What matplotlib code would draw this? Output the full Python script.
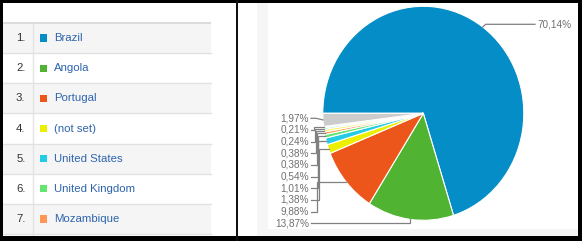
import numpy as np
import matplotlib
matplotlib.use("Agg")
import matplotlib.pyplot as plt
from matplotlib.patches import Rectangle

# ---------------- data ----------------
countries = ["Brazil", "Angola", "Portugal", "(not set)", "United States",
             "United Kingdom", "Mozambique"]
slice_values = [70.14, 13.87, 9.88, 1.38, 1.01, 0.54, 0.38, 0.38, 0.24, 0.21, 1.97]
slice_labels = ["70,14%", "13,87%", "9,88%", "1,38%", "1,01%", "0,54%",
                "0,38%", "0,38%", "0,24%", "0,21%", "1,97%"]
slice_colors = ["#058dc7", "#50b432", "#ed561b", "#edef00", "#24cbe5", "#64e572",
                "#ff9655", "#fff263", "#6af9c4", "#b2deff", "#cccccc"]

W, H = 582, 241
plt.rcParams['font.family'] = ['Liberation Sans', 'DejaVu Sans']
fig = plt.figure(figsize=(W / 100, H / 100), dpi=100)
fig.patch.set_facecolor("white")

# overlay axes in pixel coordinates
ov = fig.add_axes([0, 0, 1, 1])
ov.set_xlim(0, W)
ov.set_ylim(H, 0)
ov.axis("off")

# ---------------- left table ----------------
tab_x0, tab_x1 = 3, 211
row_top0, row_h = 23.0, 30.15
for i, name in enumerate(countries):
    top = row_top0 + i * row_h
    bg = "#f5f5f5" if i % 2 == 0 else "white"
    ov.add_patch(Rectangle((tab_x0, top), tab_x1 - tab_x0, row_h, facecolor=bg,
                           edgecolor="none", zorder=1))
    ov.plot([tab_x0, tab_x1], [top + row_h, top + row_h], color="#e2e2e2", lw=1.0, zorder=2)
    cy = top + row_h / 2
    ov.text(25.5, cy, f"{i + 1}.", ha="right", va="center", fontsize=8.2,
            color="#333333", zorder=3)
    ov.add_patch(Rectangle((39.5, cy - 3.6), 7.2, 7.2, facecolor=slice_colors[i],
                           edgecolor="none", zorder=3))
    ov.text(54, cy, name, ha="left", va="center", fontsize=8.2,
            color="#2d64ad", zorder=3)
# top border of table
ov.add_patch(Rectangle((tab_x0, 21.5), tab_x1 - tab_x0, 2.2, facecolor="#dcdcdc",
                       edgecolor="none", zorder=2))
# number column divider
ov.plot([32.5, 32.5], [23, 236], color="#e4e4e4", lw=1.0, zorder=2)

# ---------------- right panel frame strips ----------------
ov.add_patch(Rectangle((257, 3), 11, 233, facecolor="#f6f6f6", edgecolor="none", zorder=1))
ov.add_patch(Rectangle((257, 229), 321, 7, facecolor="#f6f6f6", edgecolor="none", zorder=1))

# ---------------- pie ----------------
cx, cy0, rx, ry = 423.3, 113.3, 100.5, 107.0
pa = fig.add_axes([(cx - rx) / W, 1 - (cy0 + ry) / H, 2 * rx / W, 2 * ry / H])
wedges, _ = pa.pie(slice_values, colors=slice_colors, startangle=180, counterclock=False,
                   radius=1.0, wedgeprops=dict(edgecolor="white", linewidth=0.8))
pa.set_aspect("auto")
pa.set_xlim(-1, 1)
pa.set_ylim(-1, 1)
pa.axis("off")
pa.set_zorder(2)
ov.set_zorder(3)
ov.patch.set_alpha(0)

to_px = pa.transData + ov.transData.inverted()

def edge_point(k):
    w = wedges[k]
    mid = np.deg2rad((w.theta1 + w.theta2) / 2)
    return to_px.transform((np.cos(mid), np.sin(mid)))

lab_color = "#707070"
line_color = "#808080"

# big slice label (right side)
ex, ey = edge_point(0)
ov.plot([ex, ex + 3, 535], [ey, 24.3, 24.3], color=line_color, lw=0.9, zorder=4)
ov.text(538, 24.3, slice_labels[0], ha="left", va="center", fontsize=7.2, color=lab_color, zorder=4)

# stacked left labels, top to bottom: other, 10th, 9th, ... , Angola
order = [10, 9, 8, 7, 6, 5, 4, 3, 2, 1]
elbow_x = [318, 314, 315, 316, 317, 318, 318, 319, 316.5, None]
y_first, y_step = 118.3, 11.65
lab_right = 309
for j, k in enumerate(order):
    yl = y_first + j * y_step
    ov.text(lab_right, yl, slice_labels[k], ha="right", va="center", fontsize=7.2,
            color=lab_color, zorder=4)
    ex, ey = edge_point(k)
    xe = elbow_x[j] if elbow_x[j] is not None else ex
    if j == 0:
        xs, ys = [lab_right + 2, 316, ex], [yl, yl, ey]
    else:
        xs, ys = [lab_right + 2, xe, xe, ex], [yl, yl, ey, ey]
    ov.plot(xs, ys, color=line_color, lw=0.9, zorder=4, solid_joinstyle="miter")

# ---------------- black borders ----------------
ov.add_patch(Rectangle((0, 0), W, 3, facecolor="black", edgecolor="none", zorder=10))
ov.add_patch(Rectangle((0, 0), 3, H, facecolor="black", edgecolor="none", zorder=10))
ov.add_patch(Rectangle((578, 0), 4, H, facecolor="black", edgecolor="none", zorder=10))
ov.add_patch(Rectangle((0, 236), W, 5, facecolor="black", edgecolor="none", zorder=10))
ov.add_patch(Rectangle((236.3, 0), 2, H, facecolor="#111111", edgecolor="none", zorder=10))

fig.savefig("out.png", dpi=100, facecolor="white")
